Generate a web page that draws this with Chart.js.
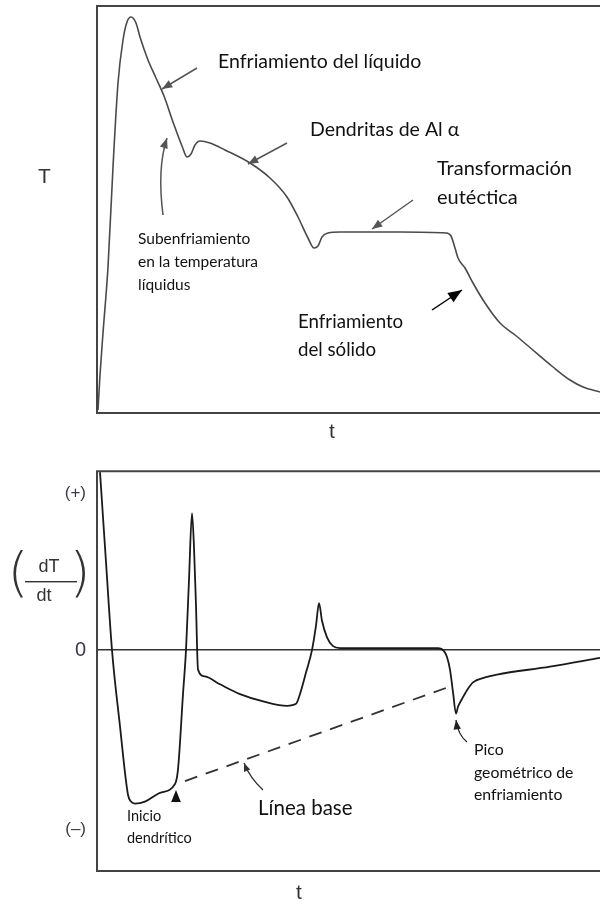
<!DOCTYPE html>
<html>
<head>
<meta charset="utf-8">
<script src="https://cdn.jsdelivr.net/npm/chart.js@4/dist/chart.umd.min.js"></script>
<style>
  body { margin: 0; background: #fff; }
  #wrapTop { position: absolute; left: 0; top: 0; width: 600px; height: 450px; }
  #wrapBottom { position: absolute; left: 0; top: 450px; width: 600px; height: 454px; }
</style>
</head>
<body>
<div id="wrapTop"><canvas id="curvaT" width="600" height="450"></canvas></div>
<div id="wrapBottom"><canvas id="curvaD" width="600" height="454"></canvas></div>
<script>
// curva de enfriamiento T(t)
const tiempoT = [1, 3, 6, 11, 16, 21, 26, 30, 34, 39, 43, 51, 59, 67, 76, 85, 90, 94, 98, 103,
  113, 128, 153, 173, 190, 201, 211, 217, 221, 225, 231, 243, 303, 349, 354, 358, 361, 368,
  376, 388, 403, 418, 430, 456, 473, 486, 503];
const temperatura = [3, 38, 80, 146, 246, 330, 373, 391, 396, 390, 376, 353, 335, 317, 291, 267, 256, 259, 268, 272,
  270, 263, 250, 235, 216, 196, 175, 165, 167, 176, 180, 181, 181, 180, 177, 165, 155, 145,
  130, 110, 90, 78, 68, 46, 33, 26, 21];

// primera derivada dT/dt
const tiempoD = [3, 9, 15, 23, 31, 34, 38, 48, 63, 78, 81, 86, 89, 92, 95, 97, 99, 101, 108, 123,
  143, 168, 190, 199, 203, 209, 215, 219, 222, 225, 230, 236, 243, 303, 341, 347, 350, 353,
  356, 359, 361, 365, 370, 376, 388, 400, 453, 503];
const derivada = [182, 90, 0, -78, -148, -155, -157, -155, -146, -137, -122, -45, 0, 72, 140, 105, 45, -20, -27, -35,
  -45, -53, -57, -55, -45, -23, 0, 25, 48, 30, 13, 4, 2, 2, 2, -1, -7, -20,
  -43, -65, -58, -50, -41, -33, -28, -25, -17, -8];

// línea base (trazos)
const baseT = [88, 351];
const baseD = [-134, -38];

// marcas del eje y inferior
const marcasD = [160, 0, -183];
const etiquetasD = ['(+)', '0', '(–)'];

const serie = (xs, ys) => xs.map((x, i) => ({ x: x, y: ys[i] }));

const FONT_NOTA = 'Lato, "Noto Sans", sans-serif';
const FONT_EJE = '"Liberation Sans", Arial, sans-serif';

function flecha(ctx, x1, y1, x2, y2, largo, color, ancho, cx, cy) {
  ctx.save();
  ctx.strokeStyle = color;
  ctx.fillStyle = color;
  ctx.lineWidth = ancho;
  ctx.beginPath();
  ctx.moveTo(x1, y1);
  let ang;
  if (cx !== undefined) {
    ctx.quadraticCurveTo(cx, cy, x2, y2);
    ang = Math.atan2(y2 - cy, x2 - cx);
  } else {
    ctx.lineTo(x2, y2);
    ang = Math.atan2(y2 - y1, x2 - x1);
  }
  ctx.stroke();
  ctx.beginPath();
  ctx.moveTo(x2, y2);
  ctx.lineTo(x2 - largo * Math.cos(ang - 0.38), y2 - largo * Math.sin(ang - 0.38));
  ctx.lineTo(x2 - largo * Math.cos(ang + 0.38), y2 - largo * Math.sin(ang + 0.38));
  ctx.closePath();
  ctx.fill();
  ctx.restore();
}

function texto(ctx, lineas, x, y, size, paso = 0, font = FONT_NOTA, color = '#111') {
  ctx.save();
  ctx.fillStyle = color;
  ctx.font = size + 'px ' + font;
  ctx.textBaseline = 'middle';
  ctx.textAlign = 'left';
  lineas.forEach((l, i) => ctx.fillText(l, x, y + i * paso));
  ctx.restore();
}

function marco(chart) {
  const a = chart.chartArea;
  const ctx = chart.ctx;
  ctx.save();
  ctx.strokeStyle = '#444';
  ctx.lineWidth = 2;
  ctx.beginPath();
  ctx.moveTo(a.right, a.top);
  ctx.lineTo(a.left, a.top);
  ctx.lineTo(a.left, a.bottom);
  ctx.lineTo(a.right, a.bottom);
  ctx.stroke();
  ctx.restore();
}

const notasArriba = {
  id: 'notasArriba',
  afterDraw(chart) {
    const ctx = chart.ctx;
    marco(chart);
    texto(ctx, ['Enfriamiento del líquido'], 218, 62, 19.5);
    texto(ctx, ['Dendritas de Al α'], 310, 130, 19.5);
    texto(ctx, ['Transformación', 'eutéctica'], 437, 169, 20, 29);
    texto(ctx, ['Subenfriamiento', 'en la temperatura', 'líquidus'], 138, 239, 15.5, 23);
    texto(ctx, ['Enfriamiento', 'del sólido'], 298, 322, 18.7, 28);
    flecha(ctx, 197, 68, 162, 89, 11, '#555', 1.5);
    flecha(ctx, 287, 143, 248, 164, 11, '#555', 1.5);
    flecha(ctx, 413, 200, 372, 229, 11, '#555', 1.5);
    flecha(ctx, 163, 215, 167, 138, 11, '#555', 1.5, 157, 168);
    flecha(ctx, 432, 310, 462, 290, 15, '#000', 1.5);
    texto(ctx, ['T'], 38, 177, 21, 0, FONT_EJE, '#333');
    texto(ctx, ['t'], 329, 432, 21, 0, FONT_EJE, '#333');
  }
};

const notasAbajo = {
  id: 'notasAbajo',
  afterDraw(chart) {
    const ctx = chart.ctx;
    const dy = -450;
    marco(chart);
    texto(ctx, ['Inicio', 'dendrítico'], 127, 816 + dy, 14.5, 22);
    texto(ctx, ['Línea base'], 258, 808 + dy, 20.5);
    texto(ctx, ['Pico', 'geométrico de', 'enfriamiento'], 474, 750 + dy, 15.8, 22.5);
    flecha(ctx, 263, 790 + dy, 244, 763 + dy, 9, '#333', 1.3, 250, 778 + dy);
    flecha(ctx, 467, 742 + dy, 456, 720 + dy, 10, '#222', 1.3, 458, 735 + dy);
    flecha(ctx, 176, 803 + dy, 176, 790 + dy, 13, '#111', 0.1);
    texto(ctx, ['t'], 296, 893 + dy, 21, 0, FONT_EJE, '#333');
    // título del eje: (dT/dt)
    ctx.save();
    ctx.fillStyle = '#333';
    ctx.textAlign = 'center';
    ctx.textBaseline = 'middle';
    ctx.font = '18px ' + FONT_EJE;
    ctx.fillText('dT', 49, 567 + dy);
    ctx.fillText('dt', 44, 596 + dy);
    ctx.fillRect(25, 581 + dy, 52, 1.4);
    ctx.font = '300 54px ' + '"DejaVu Sans", sans-serif';
    ctx.fillText('(', 18, 577 + dy);
    ctx.fillText(')', 80, 577 + dy);
    ctx.restore();
  }
};

const comun = {
  responsive: false,
  animation: false,
  devicePixelRatio: 1,
  plugins: { legend: { display: false }, tooltip: { enabled: false } },
  elements: { point: { radius: 0 } }
};

new Chart(document.getElementById('curvaT'), {
  type: 'line',
  data: {
    datasets: [{
      data: serie(tiempoT, temperatura),
      borderColor: '#4a4a4a',
      borderWidth: 1.6,
      cubicInterpolationMode: 'monotone',
      fill: false
    }]
  },
  options: Object.assign({}, comun, {
    layout: { padding: { left: 97, top: 6, right: 0, bottom: 37 } },
    scales: {
      x: { type: 'linear', min: 0, max: 503, display: false },
      y: { min: 0, max: 407, display: false }
    }
  }),
  plugins: [notasArriba]
});

new Chart(document.getElementById('curvaD'), {
  type: 'line',
  data: {
    datasets: [{
      data: serie(tiempoD, derivada),
      borderColor: '#1a1a1a',
      borderWidth: 1.8,
      cubicInterpolationMode: 'monotone',
      fill: false
    }, {
      data: serie(baseT, baseD),
      borderColor: '#333',
      borderWidth: 1.8,
      borderDash: [13, 9],
      fill: false
    }]
  },
  options: Object.assign({}, comun, {
    layout: { padding: { left: 0, top: 12, right: 0, bottom: 33 } },
    scales: {
      x: { type: 'linear', min: 0, max: 503, display: false },
      y: {
        min: -226,
        max: 183,
        afterFit: (eje) => { eje.width = 97; },
        afterBuildTicks: (eje) => { eje.ticks = marcasD.map(v => ({ value: v })); },
        border: { display: false },
        grid: {
          drawTicks: false,
          lineWidth: 1.5,
          color: (c) => (c.tick && c.tick.value === 0 ? '#333' : 'rgba(0,0,0,0)')
        },
        ticks: {
          padding: 11,
          color: '#3a3a4a',
          font: (c) => ({ family: FONT_EJE, size: c.tick && c.tick.value === 0 ? 20 : 17 }),
          callback: (v) => etiquetasD[marcasD.indexOf(v)]
        }
      }
    }
  }),
  plugins: [notasAbajo]
});
</script>
</body>
</html>
